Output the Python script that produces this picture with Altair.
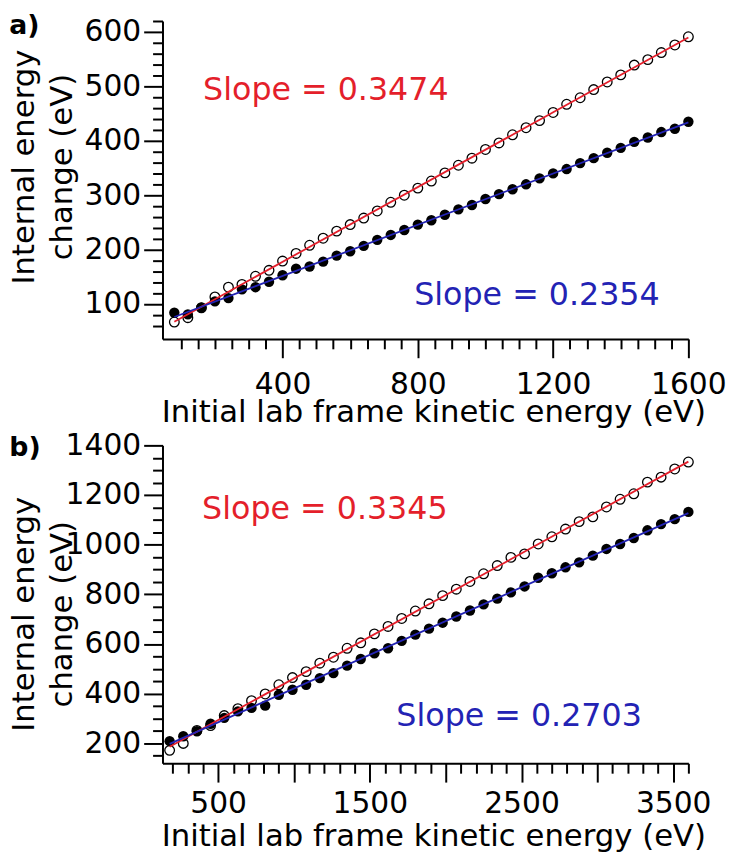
import altair as alt
import pandas as pd

# ---------------- data ----------------
# panel a
xa = [80, 120, 160, 200, 240, 280, 320, 360, 400, 440, 480, 520, 560, 600, 640, 680, 720, 760, 800,
      840, 880, 920, 960, 1000, 1040, 1080, 1120, 1160, 1200, 1240, 1280, 1320, 1360, 1400, 1440,
      1480, 1520, 1560, 1600]
open_a = [67, 75, 93, 113, 131, 136, 151, 162, 179, 193, 208, 221, 234, 246, 258, 271, 287, 300, 313,
          326, 341, 355, 368, 384, 396, 411, 424, 437, 452, 467, 479, 494, 508, 521, 539, 549, 562, 576, 591]
filled_a = [84, 81, 94, 105, 111, 127, 131, 141, 153, 165, 169, 178, 189, 197, 207, 218, 227, 236, 246,
            254, 264, 274, 282, 293, 302, 311, 320, 331, 340, 348, 359, 368, 378, 387, 398, 406, 416, 422, 435]
# panel b
xb = [180, 270, 360, 450, 540, 630, 720, 810, 900, 990, 1080, 1170, 1260, 1350, 1440, 1530, 1620, 1710,
      1800, 1890, 1980, 2070, 2160, 2250, 2340, 2430, 2520, 2610, 2700, 2790, 2880, 2970, 3060, 3150,
      3240, 3330, 3420, 3510, 3600]
open_b = [172, 200, 252, 272, 312, 340, 372, 399, 436, 465, 489, 523, 547, 583, 605, 641, 671, 703, 733,
          762, 795, 821, 852, 883, 916, 949, 963, 1003, 1032, 1063, 1093, 1112, 1152, 1183, 1205, 1252,
          1272, 1305, 1333]
filled_b = [209, 229, 249, 279, 303, 329, 343, 352, 396, 416, 436, 463, 483, 513, 540, 563, 583, 613, 638,
            662, 686, 711, 735, 760, 783, 808, 832, 867, 885, 909, 929, 956, 983, 1003, 1027, 1058, 1083,
            1103, 1132]

slope_texts_a = ["Slope = 0.3474", "Slope = 0.2354"]
slope_texts_b = ["Slope = 0.3345", "Slope = 0.2703"]
panel_tags = ["a)", "b)"]
x_title = "Initial lab frame kinetic energy (eV)"
y_title = ["Internal energy", "change (eV)"]

xa_ticks = list(range(100, 1601, 50))
ya_ticks = list(range(60, 621, 20))
xb_ticks = list(range(200, 3601, 100))
yb_ticks = list(range(150, 1401, 50))

FONT = "DejaVu Sans"
RED = "#e41f2b"
BLUE = "#2323b4"
W = 531


def panel(xs, opn, fil, xdom, ydom, xticks, yticks, xmaj, xlab, ymaj, texts, tag,
          ytitle_y, xtitle_y, xlabpad, red_pos, blue_pos, tag_y, h):
    d_open = pd.DataFrame({"x": xs, "y": opn})
    d_fill = pd.DataFrame({"x": xs, "y": fil})
    xenc = alt.X(
        "x:Q",
        scale=alt.Scale(domain=xdom, nice=False, zero=False),
        axis=alt.Axis(
            values=xticks, format="d",
            tickSize={"condition": {"test": xmaj, "value": 19}, "value": 10},
            labelExpr=f"({xlab}) ? datum.label : ''",
            labelFont=FONT, labelFontSize=30, labelColor="black", labelPadding=xlabpad,
            labelFlush=False, labelOverlap=False,
            title=x_title, titleFont=FONT, titleFontSize=31, titleFontWeight="normal",
            titleColor="black", titleBaseline="top", titleY=xtitle_y, titleX=273.5,
            domainColor="black", domainWidth=2, tickColor="black", tickWidth=2, grid=False,
        ),
    )
    yenc = alt.Y(
        "y:Q",
        scale=alt.Scale(domain=ydom, nice=False, zero=False),
        axis=alt.Axis(
            values=yticks, format="d",
            tickSize={"condition": {"test": ymaj, "value": 19}, "value": 10},
            labelExpr=f"({ymaj}) ? datum.label : ''",
            labelFontSize={"condition": {"test": ymaj, "value": 30}, "value": 0},
            labelFont=FONT, labelColor="black", labelPadding=3,
            labelFlush=False, labelOverlap=False,
            title=y_title, titleFont=FONT, titleFontSize=31, titleFontWeight="normal",
            titleColor="black", titleAngle=270, titleBaseline="top", titleAlign="center",
            titleX=-154.7, titleY=ytitle_y, titleLineHeight=39,
            domainColor="black", domainWidth=2, tickColor="black", tickWidth=2, grid=False,
        ),
    )
    pts_open = alt.Chart(d_open).mark_point(
        shape="circle", filled=False, size=95, color="black", strokeWidth=1.3, opacity=1
    ).encode(x=xenc, y=yenc)
    pts_fill = alt.Chart(d_fill).mark_circle(size=110, color="black", opacity=1).encode(x=xenc, y=yenc)
    line_r = alt.Chart(d_open).transform_regression("x", "y").mark_line(
        color=RED, strokeWidth=1.8).encode(x=xenc, y=yenc)
    line_b = alt.Chart(d_fill).transform_regression("x", "y").mark_line(
        color=BLUE, strokeWidth=1.8).encode(x=xenc, y=yenc)
    t_r = alt.Chart(pd.DataFrame({"t": [texts[0]]})).mark_text(
        font=FONT, fontSize=32, color=RED, align="left", baseline="alphabetic"
    ).encode(x=alt.value(red_pos[0]), y=alt.value(red_pos[1]), text="t:N")
    t_b = alt.Chart(pd.DataFrame({"t": [texts[1]]})).mark_text(
        font=FONT, fontSize=32, color=BLUE, align="right", baseline="alphabetic"
    ).encode(x=alt.value(blue_pos[0]), y=alt.value(blue_pos[1]), text="t:N")
    t_tag = alt.Chart(pd.DataFrame({"t": [tag]})).mark_text(
        font=FONT, fontSize=27, fontWeight="bold", color="black", align="left", baseline="top"
    ).encode(x=alt.value(-154.7), y=alt.value(tag_y), text="t:N")
    return alt.layer(pts_open, pts_fill, line_r, line_b, t_r, t_b, t_tag).properties(width=W, height=h)


pa = panel(xa, open_a, filled_a, [45, 1600], [36, 620], xa_ticks, ya_ticks,
           "datum.value % 400 === 0", "datum.value % 400 === 0", "datum.value % 100 === 0",
           slope_texts_a, panel_tags[0], 147, 59, 12, (41, 80), (502, 287), -7.7, 321)
pb = panel(xb, open_b, filled_b, [133, 3600], [120, 1400], xb_ticks, yb_ticks,
           "datum.value % 500 === 0", "(datum.value - 500) % 1000 === 0", "datum.value % 200 === 0",
           slope_texts_b, panel_tags[1], 170, 59, 6.5, (40, 74), (484, 283), -10, 321)

chart = alt.vconcat(pa, pb, spacing=3.5).properties(padding=0).configure_view(stroke=None)
chart.save("out.html", embed_options={"renderer": "svg", "actions": False})
